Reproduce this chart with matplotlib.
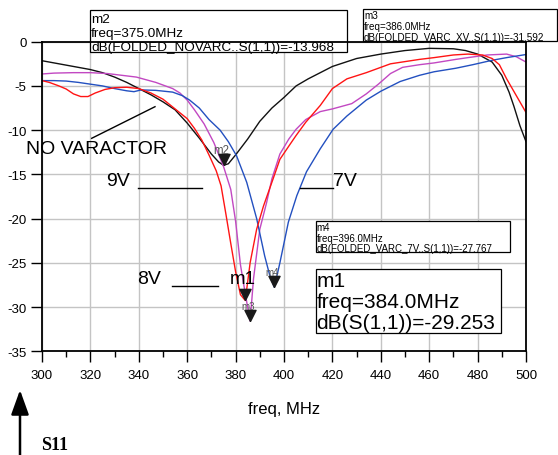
import matplotlib
matplotlib.use("Agg")
import matplotlib.pyplot as plt
from matplotlib.patches import Rectangle
from matplotlib.lines import Line2D

plt.rcParams["font.family"] = ["Liberation Sans", "DejaVu Sans"]
plt.rcParams["axes.unicode_minus"] = False

# ---- S11 sweeps (dB) versus frequency (MHz) ----
novarc_freq = [300, 305, 310, 315, 320, 325, 330, 335, 340, 345, 350, 355, 360, 365,
               370, 373, 375, 377, 380, 385, 390, 395, 400, 405, 410, 420, 430, 440,
               450, 460, 470, 475, 480, 486, 490, 493, 495, 497.5, 500]
novarc_db = [-2.15, -2.4, -2.65, -2.9, -3.15, -3.5, -4.0, -4.6, -5.3, -6.0, -6.8, -7.7,
             -9.2, -10.9, -12.7, -13.6, -13.968, -13.8, -12.8, -11.0, -9.0, -7.5, -6.3,
             -5.0, -4.2, -2.8, -1.9, -1.4, -1.0, -0.75, -0.8, -1.0, -1.4, -2.3, -3.8,
             -5.7, -7.3, -9.5, -11.3]

v8_freq = [300, 303, 307, 310, 313, 316, 319, 322, 326, 330, 335, 340, 345, 350, 355,
           360, 363, 366, 369, 372, 374, 376, 378, 380, 382, 384, 386, 388.7, 391.5,
           395.5, 398.3, 402, 405, 409, 415, 420, 426, 434, 444, 456, 462, 470, 476,
           482, 486, 489, 492, 496, 500]
v8_db = [-4.4, -4.6, -5.0, -5.35, -5.9, -6.2, -6.2, -5.8, -5.4, -5.2, -5.15, -5.3, -5.8,
         -6.5, -7.6, -8.7, -9.8, -11.1, -12.8, -14.6, -16.3, -19.5, -22.8, -26.0, -28.6,
         -29.253, -25.0, -21.2, -18.6, -15.5, -13.3, -11.8, -10.6, -9.1, -7.2, -5.3,
         -4.2, -3.5, -2.5, -2.0, -1.8, -1.5, -1.4, -1.5, -1.9, -2.6, -4.2, -6.1, -8.0]

v9_freq = [300, 305, 313, 320, 327, 333, 339, 343, 347, 351, 354, 357, 360, 363, 367,
           371, 375, 378, 380, 382, 384, 386, 387.4, 390, 392.8, 395, 398.3, 402, 405,
           409, 415, 420, 428, 434, 439, 444, 449, 456, 462, 471, 476, 484, 492, 496,
           498, 500]
v9_db = [-3.65, -3.55, -3.5, -3.5, -3.6, -3.8, -4.0, -4.3, -4.6, -5.0, -5.3, -5.8, -6.6,
         -7.7, -9.3, -11.4, -14.1, -16.7, -20.3, -25.2, -28.5, -31.592, -26.8, -21.2,
         -18.2, -15.5, -12.7, -11.0, -9.9, -8.8, -7.9, -7.6, -7.0, -5.9, -4.8, -3.6,
         -2.9, -2.6, -2.4, -2.0, -1.8, -1.5, -1.4, -1.7, -2.0, -2.3]

v7_freq = [300, 305, 310, 315, 320, 325, 330, 335, 338, 341, 347, 354, 358, 361, 365,
           369, 373.6, 377, 380.4, 384.6, 388.7, 392, 394, 396, 398.3, 401.8, 405.3,
           409.3, 415, 420.3, 426, 434, 440, 448, 456, 462, 471, 478, 486, 492, 500]
v7_db = [-4.4, -4.4, -4.45, -4.6, -4.8, -5.0, -5.3, -5.55, -5.65, -5.45, -5.5, -5.7,
         -6.1, -6.6, -7.5, -8.8, -10.0, -11.3, -12.9, -15.9, -20.0, -24.2, -26.3,
         -27.767, -25.0, -20.4, -17.4, -14.7, -12.1, -9.9, -8.4, -6.6, -5.6, -4.5,
         -3.8, -3.4, -3.0, -2.6, -2.1, -1.8, -1.45]

# ---- markers ----
m1_freq, m1_db = 384.0, -29.253
m2_freq, m2_db = 375.0, -13.968
m3_freq, m3_db = 386.0, -31.592
m4_freq, m4_db = 396.0, -27.767

x_ticks = list(range(300, 501, 20))
x_minor = list(range(310, 500, 20))
y_ticks = list(range(-35, 1, 5))

W, H = 558, 456
fig = plt.figure(figsize=(W / 100, H / 100), dpi=100)
fig.patch.set_facecolor("white")


def fx(x):
    return x / W


def fy(y):
    return 1 - y / H


ax_l, ax_r, ax_t, ax_b = 42, 526, 42.7, 352.3
ax = fig.add_axes([fx(ax_l), fy(ax_b), (ax_r - ax_l) / W, (ax_b - ax_t) / H])
ax.set_xlim(300, 500)
ax.set_ylim(-35, 0)
ax.set_axisbelow(True)
ax.set_xticks(x_ticks)
ax.set_xticks(x_minor, minor=True)
ax.set_yticks(y_ticks)
ax.grid(True, which="major", color="#c4c4c4", lw=1.0)
ax.tick_params(axis="x", which="major", direction="out", length=8, width=1.0,
               pad=5, labelsize=9.5)
ax.tick_params(axis="x", which="minor", direction="out", length=4.5, width=1.0)
ax.tick_params(axis="y", which="major", direction="out", length=8, width=1.0,
               pad=3, labelsize=9.5)
for s in ax.spines.values():
    s.set_linewidth(1.3)
    s.set_color("black")
    s.set_zorder(2.6)

ax.plot(novarc_freq, novarc_db, color="#111111", lw=1.0, zorder=2)
ax.plot(v9_freq, v9_db, color="#c248c2", lw=1.0, zorder=2)
ax.plot(v7_freq, v7_db, color="#2350c0", lw=1.0, zorder=2)
ax.plot(v8_freq, v8_db, color="#ff1414", lw=1.0, zorder=2)

ax.set_xlabel("freq, MHz", fontsize=12, labelpad=14)

# downward triangle with its tip on the marker point
tri = [(0, 0), (-0.5, 1), (0.5, 1), (0, 0)]
for name, f, v, lbl_size in [("m1", m1_freq, m1_db, None),
                             ("m2", m2_freq, m2_db, 8.3),
                             ("m3", m3_freq, m3_db, 7),
                             ("m4", m4_freq, m4_db, 7)]:
    ax.plot([f], [v], marker=tri, ms=16, color="#1a1a1a", zorder=4, clip_on=False)
    if lbl_size:
        ax.annotate(name, (f, v), xytext=(-1.5, 11), textcoords="offset points",
                    ha="center", va="center", fontsize=lbl_size, color="#555555",
                    zorder=5)


# marker readout boxes (pixel coordinates of the figure)
def readout(x0, y0, x1, y1, lines, size, ys, tx):
    r = Rectangle((fx(x0), fy(y1)), fx(x1) - fx(x0), fy(y0) - fy(y1),
                  transform=fig.transFigure, fc="white", ec="black", lw=0.9,
                  clip_on=False, zorder=2.3)
    ax.add_patch(r)
    for s, yy in zip(lines, ys):
        ax.text(fx(tx), fy(yy), s, transform=fig.transFigure, fontsize=size,
                ha="left", va="center", clip_on=False, zorder=2.4)


readout(90, 10.7, 347.3, 53.3,
        ["m2", f"freq={m2_freq:.1f}MHz", f"dB(FOLDED_NOVARC..S(1,1))={m2_db:.3f}"],
        9.7, [20, 33.5, 48], 91)
readout(363.3, 10, 557, 42.3,
        ["m3", f"freq={m3_freq:.1f}MHz", f"dB(FOLDED_VARC_XV..S(1,1))={m3_db:.3f}"],
        7.1, [15.7, 26.7, 38.3], 364)
readout(315.7, 221.7, 510, 253.3,
        ["m4", f"freq={m4_freq:.1f}MHz", f"dB(FOLDED_VARC_7V..S(1,1))={m4_db:.3f}"],
        7.0, [228, 238.7, 249], 316.5)
readout(315.7, 270, 501, 334.3,
        ["m1", f"freq={m1_freq:.1f}MHz", f"dB(S(1,1))={m1_db:.3f}"],
        15, [281.7, 302.7, 323.3], 316.5)

# curve labels and leader lines
big = 14
fig.text(fx(26), fy(150), "NO VARACTOR", fontsize=big, ha="left", va="center")
fig.text(fx(106), fy(181.7), "9V", fontsize=big, ha="left", va="center")
fig.text(fx(333), fy(181.7), "7V", fontsize=big, ha="left", va="center")
fig.text(fx(137.5), fy(280), "8V", fontsize=big, ha="left", va="center")
fig.text(fx(229.5), fy(280), "m1", fontsize=13.5, ha="left", va="center")

for (x0, y0, x1, y1) in [(91.7, 139.3, 155, 107.7),
                         (138.3, 189.3, 202.3, 189.3),
                         (300, 189.3, 333.3, 189.3),
                         (171.7, 286.7, 218.3, 286.7)]:
    fig.add_artist(Line2D([fx(x0), fx(x1)], [fy(y0), fy(y1)],
                          transform=fig.transFigure, color="black", lw=1.0))

# S11 arrow and caption
fig.add_artist(plt.matplotlib.patches.FancyArrowPatch(
    (fx(20), fy(457)), (fx(20), fy(391)), transform=fig.transFigure,
    arrowstyle="-|>,head_length=0.75,head_width=0.27", mutation_scale=20,
    lw=1.8, color="black", shrinkA=0, shrinkB=0))
fig.text(fx(41), fy(446), "S11", fontsize=13, fontweight="bold",
         family=["Liberation Serif", "DejaVu Serif"], ha="left", va="center")

fig.savefig("out.png", dpi=100)
